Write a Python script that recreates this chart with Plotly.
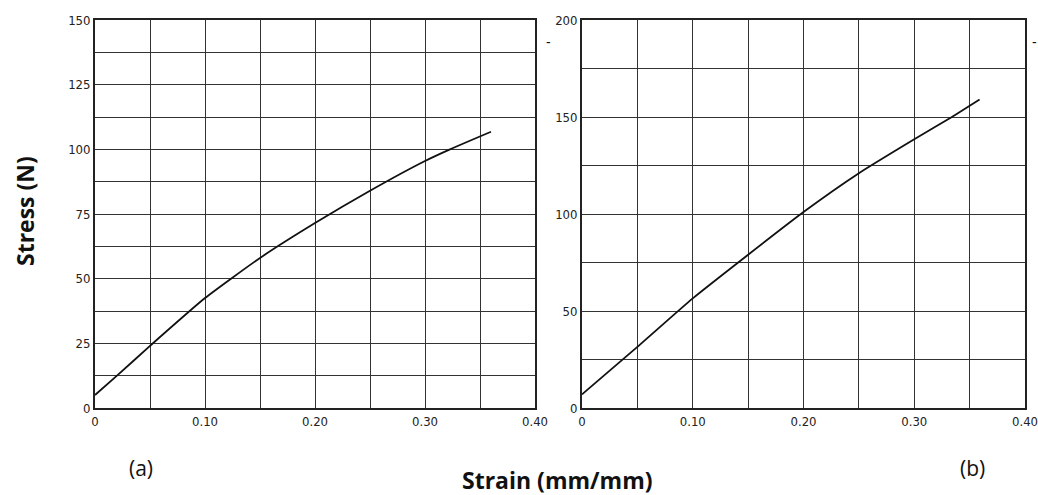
import plotly.graph_objects as go

# Data
strain_a = [0.0, 0.02, 0.05, 0.10, 0.15, 0.20, 0.25, 0.30, 0.3227, 0.36]
stress_a = [5.0, 12.5, 24.0, 42.5, 58.0, 71.5, 84.0, 95.5, 100.0, 106.8]
strain_b = [0.0, 0.05, 0.10, 0.15, 0.20, 0.25, 0.30, 0.334, 0.359]
stress_b = [7.0, 31.5, 56.5, 79.0, 101.0, 121.0, 138.5, 150.0, 159.0]

x_grid = [0, 0.05, 0.10, 0.15, 0.20, 0.25, 0.30, 0.35, 0.40]
x_text = ["0", "", "0.10", "", "0.20", "", "0.30", "", "0.40"]
ya_grid = [0, 12.5, 25, 37.5, 50, 62.5, 75, 87.5, 100, 112.5, 125, 137.5, 150]
ya_text = ["0", "", "25", "", "50", "", "75", "", "100", "", "125", "", "150"]
yb_grid = [0, 25, 50, 75, 100, 125, 150, 175, 200]
yb_text = ["0", "", "50", "", "100", "", "150", "", "200"]

fig = go.Figure()
fig.add_trace(go.Scatter(x=strain_a, y=stress_a, mode="lines",
                         line=dict(color="#111", width=1.8, shape="spline", smoothing=0.5),
                         xaxis="x", yaxis="y", showlegend=False, hoverinfo="skip"))
fig.add_trace(go.Scatter(x=strain_b, y=stress_b, mode="lines",
                         line=dict(color="#111", width=1.8, shape="spline", smoothing=0.5),
                         xaxis="x2", yaxis="y2", showlegend=False, hoverinfo="skip"))

tickfont = dict(family="Liberation Sans Narrow, DejaVu Sans Condensed, Liberation Sans", size=13, color="#222")
axis_common = dict(showline=True, linecolor="#222", linewidth=1.8, mirror=True, showgrid=True, automargin=False,
                   gridcolor="#333", gridwidth=1.4, zeroline=False, ticks="", tickfont=tickfont, fixedrange=True,
                   ticklabeloverflow="allow")

ann_font = dict(family="Open Sans", size=23, color="#111")
fig.update_layout(
    width=1038, height=495,
    margin=dict(l=0, r=0, t=0, b=0, autoexpand=False),
    paper_bgcolor="white", plot_bgcolor="white",
    xaxis=dict(domain=[95/1038, 535/1038], range=[0, 0.40], tickvals=x_grid, ticktext=x_text, anchor="y", **axis_common),
    yaxis=dict(domain=[1-408/495, 1-20/495], range=[0, 150], tickvals=ya_grid, ticktext=ya_text, anchor="x", **axis_common),
    xaxis2=dict(domain=[582/1038, 1025/1038], range=[0, 0.40], tickvals=x_grid, ticktext=x_text, anchor="y2", **axis_common),
    yaxis2=dict(domain=[1-408/495, 1-20/495], range=[0, 200], tickvals=yb_grid, ticktext=yb_text, anchor="x2", **axis_common),
    annotations=[
        dict(text="<b>Stress (N)</b>", x=25/1038, y=1-211/495, xref="paper", yref="paper", textangle=-90,
             xanchor="center", yanchor="middle", showarrow=False, font=ann_font),
        dict(text="<b>Strain (mm/mm)</b>", x=557/1038, y=1-480/495, xref="paper", yref="paper",
             xanchor="center", yanchor="middle", showarrow=False, font=ann_font),
        dict(text="(a)", x=141/1038, y=1-468/495, xref="paper", yref="paper",
             xanchor="center", yanchor="middle", showarrow=False,
             font=dict(family="Open Sans", size=21, color="#111")),
        dict(text="(b)", x=972/1038, y=1-468/495, xref="paper", yref="paper",
             xanchor="center", yanchor="middle", showarrow=False,
             font=dict(family="Open Sans", size=21, color="#111")),
        dict(text="-", x=548/1038, y=1-42/495, xref="paper", yref="paper",
             xanchor="center", yanchor="middle", showarrow=False,
             font=dict(family="Liberation Sans", size=14, color="#111")),
        dict(text="-", x=1034/1038, y=1-42/495, xref="paper", yref="paper",
             xanchor="center", yanchor="middle", showarrow=False,
             font=dict(family="Liberation Sans", size=14, color="#111")),
    ],
)

fig.write_html("out.html", config={"displayModeBar": False},
               post_script="document.body.style.margin='0';document.body.style.overflow='hidden';")
